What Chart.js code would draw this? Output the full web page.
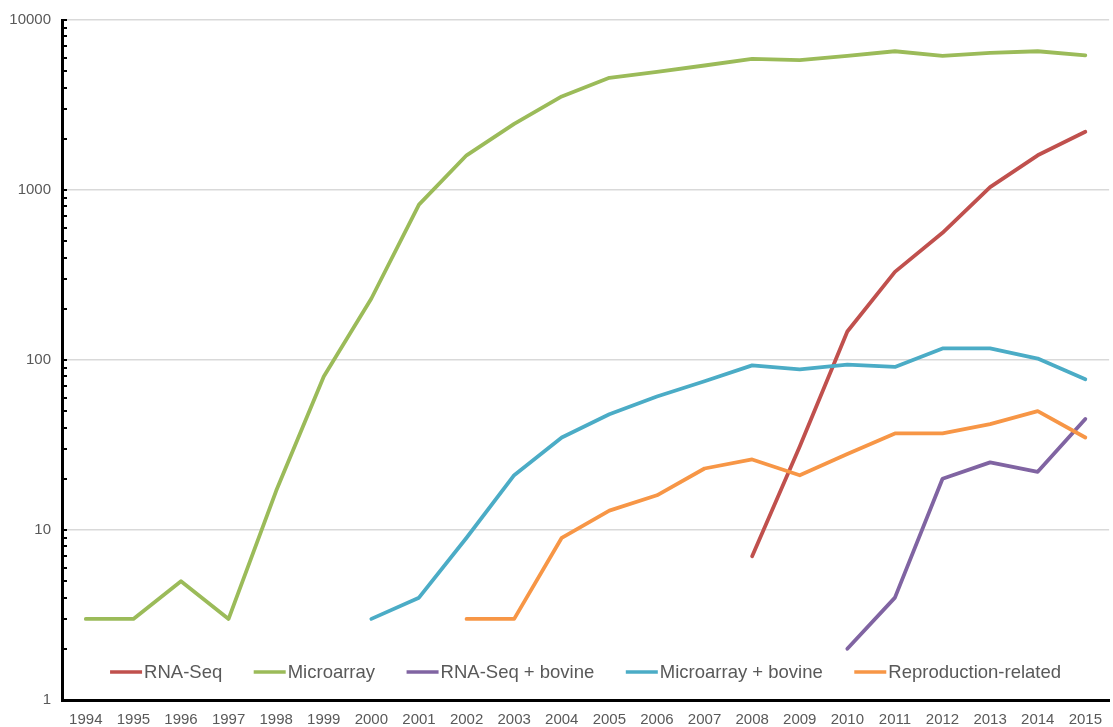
<!DOCTYPE html>
<html>
<head>
<meta charset="utf-8">
<script src="https://cdn.jsdelivr.net/npm/chart.js@4/dist/chart.umd.min.js"></script>
<style>
  html, body { margin: 0; padding: 0; background: #fff; overflow: hidden; }
  #wrap { position: relative; width: 1113px; height: 727px; }
</style>
</head>
<body>
<div id="wrap"><canvas id="c"></canvas></div>
<script>
// Publication counts per year (log scale)
const years = ['1994','1995','1996','1997','1998','1999','2000','2001','2002','2003','2004',
               '2005','2006','2007','2008','2009','2010','2011','2012','2013','2014','2015'];

const rnaSeq = [null,null,null,null,null,null,null,null,null,null,null,null,null,null,
                7, 31, 147, 330, 560, 1040, 1600, 2200];

const microarray = [3, 3, 5, 3, 17, 80, 230, 820, 1600, 2450, 3550,
                    4570, 4950, 5400, 5900, 5800, 6150, 6550, 6150, 6400, 6550, 6200];

const rnaSeqBovine = [null,null,null,null,null,null,null,null,null,null,null,null,null,null,null,null,
                      2, 4, 20, 25, 22, 45];

const microarrayBovine = [null,null,null,null,null,null,
                          3, 4, 9, 21, 35, 48, 61, 75, 93, 88, 94, 91, 117, 117, 102, 77];

const reproductionRelated = [null,null,null,null,null,null,null,null,
                             3, 3, 9, 13, 16, 23, 26, 21, 28, 37, 37, 42, 50, 35];

const yTickLabels = [1, 10, 100, 1000, 10000];

const seriesNames = ['RNA-Seq', 'Microarray', 'RNA-Seq + bovine', 'Microarray + bovine', 'Reproduction-related'];
const seriesColors = ['#C0504D', '#9BBB59', '#8064A2', '#4BACC6', '#F79646'];
const seriesValues = [rnaSeq, microarray, rnaSeqBovine, microarrayBovine, reproductionRelated];

const FONT = '"Liberation Sans", Arial, sans-serif';
const TEXT_COLOR = '#595959';

// Short black tick marks on the inside of the y axis, at every log step
const innerTicks = {
  id: 'innerTicks',
  afterDraw(chart) {
    const y = chart.scales.y;
    const ctx = chart.ctx;
    const x0 = chart.chartArea.left;
    ctx.save();
    ctx.strokeStyle = '#000';
    ctx.lineWidth = 2;
    y.ticks.forEach(t => {
      const py = Math.round(y.getPixelForValue(t.value));
      ctx.beginPath();
      ctx.moveTo(x0, py);
      ctx.lineTo(x0 + 5, py);
      ctx.stroke();
    });
    ctx.restore();
  }
};

// Legend drawn inside the plot area, centred along the bottom
const insideLegend = {
  id: 'insideLegend',
  afterDraw(chart) {
    const ctx = chart.ctx;
    const area = chart.chartArea;
    const sample = 32, textGap = 2, itemGap = 31.5;
    ctx.save();
    ctx.font = '18.5px ' + FONT;
    ctx.textBaseline = 'middle';
    const items = chart.data.datasets.map(ds => ({
      label: ds.label, color: ds.borderColor, w: sample + textGap + ctx.measureText(ds.label).width
    }));
    const total = items.reduce((s, it) => s + it.w, 0) + itemGap * (items.length - 1);
    let x = (area.left + area.right) / 2 - total / 2;
    const y = area.bottom - 28;
    items.forEach(it => {
      ctx.strokeStyle = it.color;
      ctx.lineWidth = 3.5;
      ctx.beginPath();
      ctx.moveTo(x, y);
      ctx.lineTo(x + sample, y);
      ctx.stroke();
      ctx.fillStyle = TEXT_COLOR;
      ctx.fillText(it.label, x + sample + textGap, y + 1);
      x += it.w + itemGap;
    });
    ctx.restore();
  }
};

new Chart(document.getElementById('c'), {
  type: 'line',
  data: {
    labels: years,
    datasets: seriesValues.map((vals, i) => ({
      label: seriesNames[i],
      data: vals,
      borderColor: seriesColors[i],
      backgroundColor: seriesColors[i],
      borderWidth: 3.8,
      pointRadius: 0,
      pointHoverRadius: 0,
      tension: 0,
      spanGaps: false,
      borderJoinStyle: 'round',
      borderCapStyle: 'round',
      order: seriesValues.length - i
    }))
  },
  options: {
    responsive: true,
    maintainAspectRatio: false,
    animation: false,
    events: [],
    layout: { padding: { top: 18, right: 0, bottom: 0, left: 0 } },
    plugins: {
      legend: { display: false },
      tooltip: { enabled: false }
    },
    scales: {
      x: {
        type: 'category',
        offset: true,
        grid: { display: false, drawTicks: false },
        border: { display: true, color: '#000', width: 3 },
        ticks: {
          color: TEXT_COLOR,
          font: { family: FONT, size: 15 },
          padding: 11,
          maxRotation: 0,
          autoSkip: false
        },
        afterFit(scale) { scale.height = 27; }
      },
      y: {
        type: 'logarithmic',
        min: 1,
        max: 10000,
        afterBuildTicks(scale) {
          const t = [];
          for (let d = 1; d < 10000; d *= 10) {
            for (let m = 1; m < 10; m++) t.push({ value: m * d });
          }
          t.push({ value: 10000 });
          scale.ticks = t;
        },
        grid: {
          drawTicks: false,
          lineWidth: 1.5,
          color: ctx => (ctx.tick && yTickLabels.includes(ctx.tick.value)) ? '#D9D9D9' : 'rgba(0,0,0,0)'
        },
        border: { display: true, color: '#000', width: 3 },
        ticks: {
          autoSkip: false,
          color: TEXT_COLOR,
          font: { family: FONT, size: 15 },
          padding: 11,
          callback: v => yTickLabels.includes(v) ? String(v) : ''
        },
        afterFit(scale) { scale.width = 62; }
      }
    }
  },
  plugins: [innerTicks, insideLegend]
});
</script>
</body>
</html>
